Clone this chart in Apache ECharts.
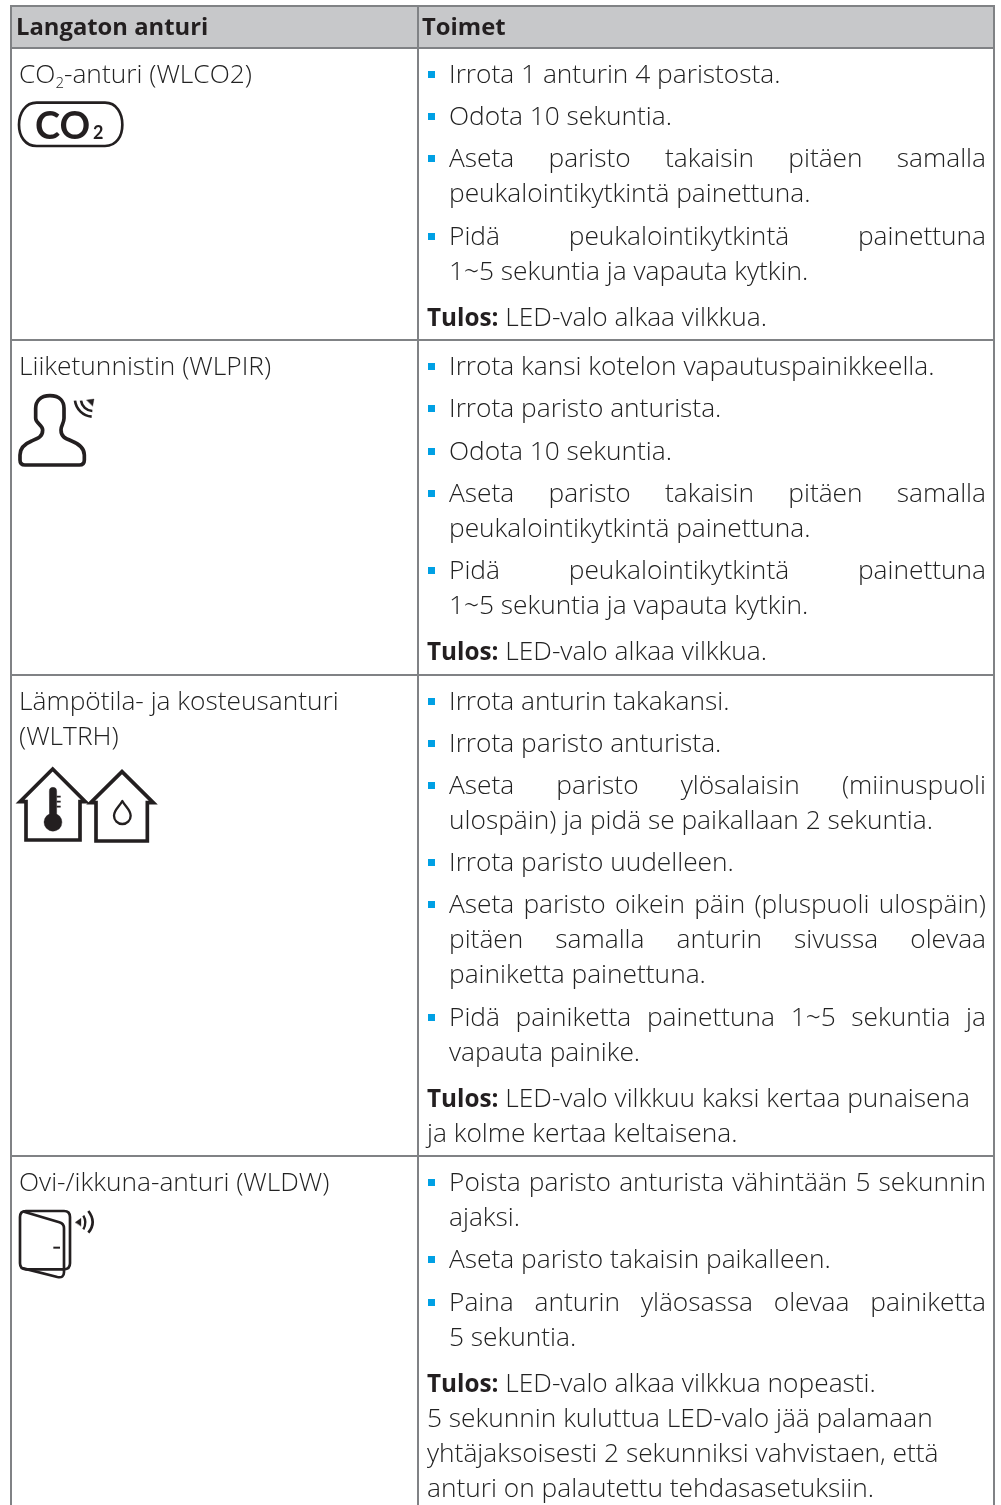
<!DOCTYPE html>
<html><head><meta charset="utf-8">
<style>html,body{margin:0;padding:0;background:#fff}#c{width:1001px;height:1505px}</style>
<script src="https://cdn.jsdelivr.net/npm/echarts@6/dist/echarts.min.js"></script>
</head><body><div id="c"></div>
<script>
const headers = ["Langaton anturi", "Toimet"];
const sensorNames = [
  [["CO", "2", "-anturi (WLCO2)"]],
  [["Liiketunnistin (WLPIR)"]],
  [["Lämpötila- ja kosteusanturi"], ["(WLTRH)"]],
  [["Ovi-/ikkuna-anturi (WLDW)"]]
];
const steps1 = [["Irrota 1 anturin 4 paristosta."], ["Odota 10 sekuntia."],
  ["Aseta paristo takaisin pitäen samalla", "peukalointikytkintä painettuna."],
  ["Pidä peukalointikytkintä painettuna", "1~5 sekuntia ja vapauta kytkin."]];
const steps2 = [["Irrota kansi kotelon vapautuspainikkeella."], ["Irrota paristo anturista."], ["Odota 10 sekuntia."],
  ["Aseta paristo takaisin pitäen samalla", "peukalointikytkintä painettuna."],
  ["Pidä peukalointikytkintä painettuna", "1~5 sekuntia ja vapauta kytkin."]];
const steps3 = [["Irrota anturin takakansi."], ["Irrota paristo anturista."],
  ["Aseta paristo ylösalaisin (miinuspuoli", "ulospäin) ja pidä se paikallaan 2 sekuntia."],
  ["Irrota paristo uudelleen."],
  ["Aseta paristo oikein päin (pluspuoli ulospäin)", "pitäen samalla anturin sivussa olevaa", "painiketta painettuna."],
  ["Pidä painiketta painettuna 1~5 sekuntia ja", "vapauta painike."]];
const steps4 = [["Poista paristo anturista vähintään 5 sekunnin", "ajaksi."],
  ["Aseta paristo takaisin paikalleen."],
  ["Paina anturin yläosassa olevaa painiketta", "5 sekuntia."]];
const resultLabel = "Tulos:";
const result1 = ["LED-valo alkaa vilkkua."];
const result2 = ["LED-valo alkaa vilkkua."];
const result3 = ["LED-valo vilkkuu kaksi kertaa punaisena", "ja kolme kertaa keltaisena."];
const result4 = ["LED-valo alkaa vilkkua nopeasti.", "5 sekunnin kuluttua LED-valo jää palamaan",
  "yhtäjaksoisesti 2 sekunniksi vahvistaen, että", "anturi on palautettu tehdasasetuksiin."];
const steps = [steps1, steps2, steps3, steps4];
const results = [result1, result2, result3, result4];

const FONT = '"Open Sans"', SIZE = 26.3, INK = '#222', HEAD = '#231f20', LINE = '#808285';
const ctx = document.createElement('canvas').getContext('2d');
const fontOf = (size, weight, fam) => `${weight} ${size}px ${fam || FONT}`;
const widthOf = (s, f) => { ctx.font = f; return ctx.measureText(s).width; };
const out = [];
const put = (x, y, text, f, fill) => out.push({ type: 'text', x, y: Math.round(y) + 1, silent: true,
  style: { text, font: f, fill: fill || INK, textAlign: 'left', textVerticalAlign: 'middle' } });
const rect = (x, y, width, height, fill) => out.push({ type: 'rect', silent: true, shape: { x, y, width, height }, style: { fill } });
let iconCount = 0;
const icon = (x, y, d, style) => {
  const name = 'sensorIcon' + (iconCount++);
  echarts.graphic.registerShape(name, echarts.graphic.extendPath(d));
  out.push({ type: name, silent: true, x, y, scaleX: 1 / 3, scaleY: 1 / 3,
    style: Object.assign({ fill: 'none', stroke: '#231f20', lineWidth: 11, lineJoin: 'round', lineCap: 'round' }, style) });
};

const REG = fontOf(SIZE, 300), BOLD = fontOf(23.8, 700), LABEL = fontOf(24.3, 700);
const L = 11, M = 418, R = 994, BOTTOM = 1505, TOP = 6, HEADB = 48;
const TX = 449, BX = 428, RTX = 427, RR = 986, LX = 19;
const LEAD = 35, PARA = 42.2, RESULT = 46, TAIL = 22.6, FIRST = 27;

// header band
rect(L, TOP, R - L, HEADB - TOP, '#c7c8ca');
put(16, 27, headers[0], BOLD, HEAD);
put(422, 27, headers[1], BOLD, HEAD);

// body flow
let y = HEADB;
const rules = [TOP, HEADB];
steps.forEach((paras, r) => {
  let ly = y + FIRST;
  sensorNames[r].forEach((runs, i) => {
    const yy = ly + i * LEAD;
    if (runs.length === 3) {
      let x = LX;
      put(x, yy, runs[0], REG); x += widthOf(runs[0], REG);
      const sub = fontOf(15, 300);
      put(x, yy + 8, runs[1], sub); x += widthOf(runs[1], sub);
      put(x, yy, runs[2], REG);
    } else put(LX, yy, runs[0], REG);
  });
  paras.forEach((para, p) => {
    if (p) ly += PARA;
    rect(BX, Math.round(ly) - 4, 7, 7, '#00a0e4');
    para.forEach((line, i) => {
      if (i) ly += LEAD;
      if (i < para.length - 1) {
        const words = line.split(' ');
        const total = words.reduce((a, w) => a + widthOf(w, REG), 0);
        const gap = (RR - TX - total) / (words.length - 1);
        let x = TX;
        words.forEach(w => { put(x, ly, w, REG); x += widthOf(w, REG) + gap; });
      } else put(TX, ly, line, REG);
    });
  });
  ly += RESULT;
  put(RTX, ly, resultLabel, LABEL, HEAD);
  put(RTX + widthOf(resultLabel, LABEL) + widthOf(' ', REG), ly, results[r][0], REG);
  results[r].slice(1).forEach(line => { ly += LEAD; put(RTX, ly, line, REG); });
  y = ly + TAIL;
  rules.push(Math.round(y));
});

// grid rules
rules.forEach(v => { if (v < BOTTOM) rect(L - 1, v - 1, R - L + 2, 2, LINE); });
[L, M, R].forEach(v => rect(v - 1, TOP - 1, 2, BOTTOM - TOP + 1, LINE));

// icons: CO2
icon(0, 0, 'M110 308 L315 308 C350 308 367 340 367 374 C367 408 350 438 315 438 L110 438 C75 438 57 408 57 374 C57 340 75 308 110 308 Z', { lineWidth: 8 });
put(35, 126, 'CO', fontOf(38, 700, 'Lato'), '#231f20');
put(93, 132, '2', fontOf(18, 700, 'Lato'), '#231f20');
// person
icon(0, 380, 'M150 47 C120 47 107 65 107 85 L107 115 C107 130 128 135 128 150 C128 170 115 175 95 183 C70 193 60 205 60 225 L60 240 Q60 255 75 255 L238 255 Q253 255 253 240 L253 225 C253 205 240 193 215 183 C195 175 183 170 183 150 C183 135 192 130 192 115 L192 85 C192 65 180 47 150 47 Z');
icon(0, 380, 'M225 62 A55 55 0 0 0 275 110 M243 62 A36 36 0 0 0 277 93', { lineWidth: 8, lineCap: 'butt' });
icon(0, 380, 'M260 60 L282 57 L278 78 Z', { fill: '#231f20', lineWidth: 1 });
// houses
icon(0, 755, 'M78 140 L60 140 L158 42 L256 140 L240 140 L240 255 L78 255 Z', { lineJoin: 'miter' });
icon(0, 755, 'M148 108 A11 11 0 0 1 170 108 L170 177 A27 27 0 1 1 148 177 Z', { fill: '#231f20', lineWidth: 1 });
icon(0, 755, 'M170 125 L182 125 M170 140 L182 140 M170 155 L182 155', { lineWidth: 5, lineCap: 'butt' });
icon(0, 755, 'M288 143 L272 143 L366 50 L460 143 L442 143 L442 258 L288 258 Z', { lineJoin: 'miter' });
icon(0, 755, 'M367 138 C358 155 342 165 342 182 A25 25 0 0 0 392 182 C392 165 376 155 367 138 Z', { lineWidth: 7 });
// door
icon(0, 1195, 'M78 48 L192 48 Q210 48 210 66 L210 205 Q210 223 192 223 L78 223 Q60 223 60 205 L60 66 Q60 48 78 48 Z', { lineWidth: 8 });
icon(0, 1195, 'M72 50 L178 82 Q192 86 192 100 L192 232 Q192 250 172 246 L70 220', { lineWidth: 8 });
icon(0, 1195, 'M160 158 L180 158', { lineWidth: 6, lineCap: 'butt' });
icon(0, 1195, 'M226 82 L243 70 L243 93 Z', { fill: '#231f20', lineWidth: 1 });
icon(0, 1195, 'M250 62 Q262 82 250 103', { lineWidth: 7, lineCap: 'butt' });
icon(0, 1195, 'M265 48 Q291 82 265 113', { lineWidth: 8, lineCap: 'butt' });

const chart = echarts.init(document.getElementById('c'), null, { renderer: 'canvas', width: 1001, height: 1505 });
chart.setOption({ animation: false, backgroundColor: '#fff', graphic: { elements: out } });
</script></body></html>
